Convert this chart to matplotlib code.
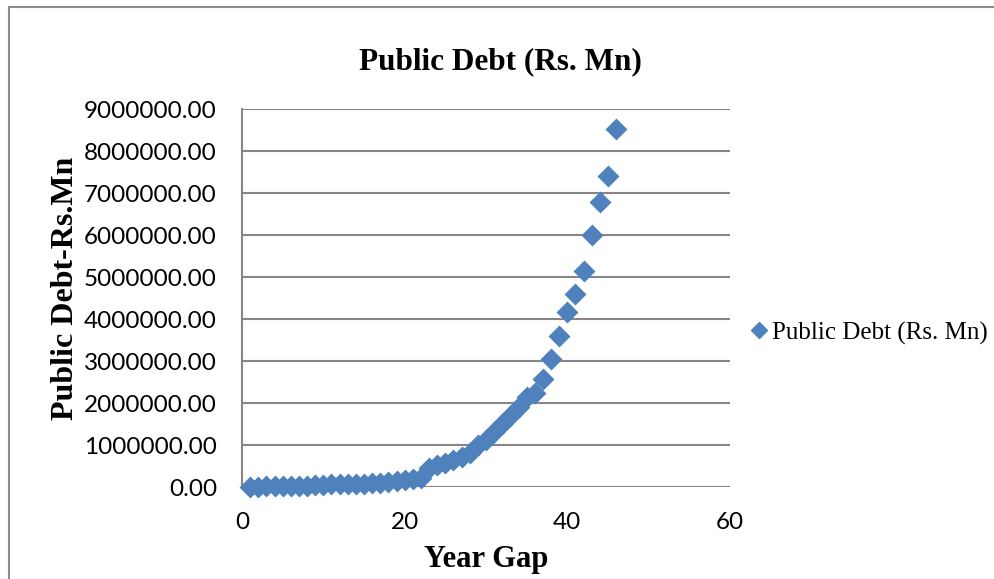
import matplotlib
matplotlib.use("Agg")
import matplotlib.pyplot as plt
from matplotlib.lines import Line2D
from matplotlib.patches import Rectangle

# Public debt (Rs. Mn) against year gap
year_gap = list(range(1, 47))
public_debt = [
    5000, 10000, 12000, 15000, 20000, 25000, 30000, 35000, 40000, 50000,
    60000, 70000, 80000, 60000, 70000, 90000, 100000, 120000, 140000, 160000,
    190000, 220000, 450000, 520000, 580000, 650000, 720000, 800000, 1000000, 1120000,
    1300000, 1500000, 1700000, 1900000, 2150000, 2230000, 2580000, 3050000, 3600000, 4160000,
    4600000, 5140000, 6000000, 6790000, 7400000, 8520000,
]
y_ticks = [0, 1000000, 2000000, 3000000, 4000000, 5000000, 6000000, 7000000, 8000000, 9000000]
x_ticks = [0, 20, 40, 60]

blue = "#4F81BD"
grid_gray = "#868686"
tick_font = "Lato"
label_font = "Liberation Serif"

fig = plt.figure(figsize=(9.95, 5.79), dpi=100)
ax = fig.add_axes([242 / 995, 1 - 487 / 579, (730 - 242) / 995, (487 - 109) / 579])

ax.scatter(year_gap, public_debt, marker="D", s=125, color=blue, zorder=3,
           linewidths=0, clip_on=False)

ax.set_xlim(0, 60)
ax.set_ylim(0, 9000000)
ax.set_xticks(x_ticks)
ax.set_yticks(y_ticks)
ax.set_yticklabels([f"{v:.2f}" for v in y_ticks])
ax.tick_params(length=0, labelsize=17.5, colors="black")
ax.tick_params(axis="y", pad=18)
ax.tick_params(axis="x", pad=18)
for lbl in ax.get_xticklabels() + ax.get_yticklabels():
    lbl.set_fontfamily(tick_font)

ax.grid(axis="y", color=grid_gray, linewidth=1.5, zorder=0)
ax.set_axisbelow(True)
for side in ["top", "right", "bottom"]:
    ax.spines[side].set_visible(False)
ax.spines["left"].set_color(grid_gray)
ax.spines["left"].set_linewidth(1.5)

fig.text(0.503, 1 - 62 / 579, "Public Debt (Rs. Mn)", ha="center", va="center",
         fontsize=22.5, fontweight="bold", family=label_font)
fig.text(0.489, 1 - 559 / 579, "Year Gap", ha="center", va="center",
         fontsize=22, fontweight="bold", family=label_font)
fig.text(66 / 995, 1 - 288 / 579, "Public Debt-Rs.Mn", ha="center", va="center",
         rotation=90, fontsize=23, fontweight="bold", family=label_font)

# legend entry on the right
handle = Line2D([], [], marker="D", linestyle="none", color=blue, markersize=8.5)
leg = fig.legend([handle], ["Public Debt (Rs. Mn)"], loc="center left",
                 bbox_to_anchor=(753 / 995, 1 - 333 / 579), frameon=False,
                 handlelength=0.5, handletextpad=0.25, borderpad=0,
                 borderaxespad=0, prop={"family": label_font, "size": 18})

# chart area border
fig.patches.append(Rectangle((9 / 995, -0.1), 1.2, 1 - 7 / 579 + 0.1,
                             transform=fig.transFigure, fill=False,
                             edgecolor="#8c8c8c", linewidth=1.5))

fig.savefig("out.png", dpi=100)
